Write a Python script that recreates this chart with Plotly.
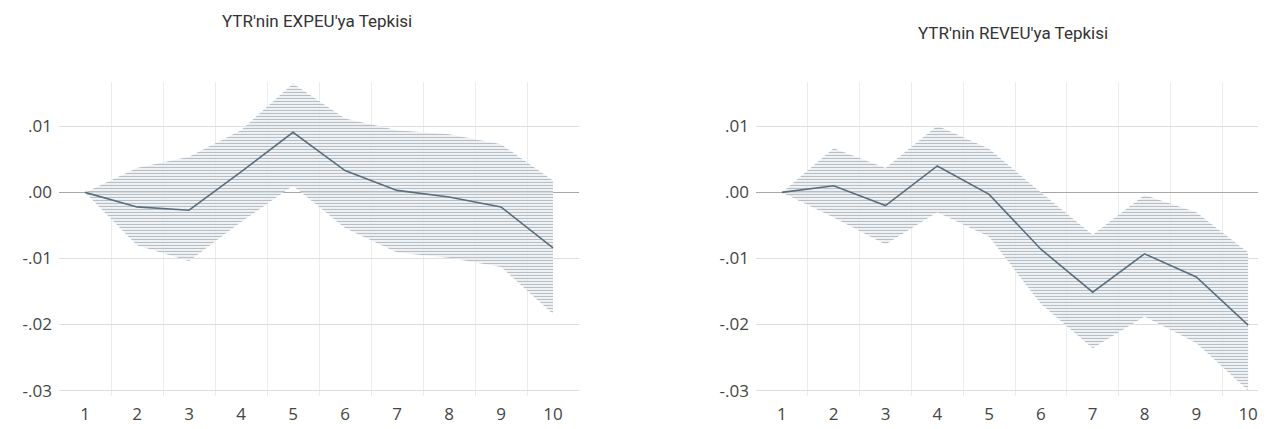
import plotly.graph_objects as go

periods = [1, 2, 3, 4, 5, 6, 7, 8, 9, 10]

# YTR'nin EXPEU'ya Tepkisi
exp_resp = [0.0, -0.0022, -0.0027, 0.0031, 0.0091, 0.0033, 0.0003, -0.0007, -0.0022, -0.0084]
exp_upper = [0.0, 0.0037, 0.0054, 0.0094, 0.0165, 0.0112, 0.0094, 0.0088, 0.0073, 0.0018]
exp_lower = [0.0, -0.0080, -0.0104, -0.0045, 0.0010, -0.0054, -0.0091, -0.0099, -0.0113, -0.0184]

# YTR'nin REVEU'ya Tepkisi
rev_resp = [0.0, 0.0010, -0.0020, 0.0040, -0.0003, -0.0086, -0.0151, -0.0093, -0.0128, -0.0201]
rev_upper = [0.0, 0.0067, 0.0037, 0.0101, 0.0066, 0.0000, -0.0064, -0.0004, -0.0030, -0.0091]
rev_lower = [0.0, -0.0038, -0.0079, -0.0030, -0.0067, -0.0169, -0.0236, -0.0188, -0.0228, -0.0300]

titles = ["YTR'nin EXPEU'ya Tepkisi", "YTR'nin REVEU'ya Tepkisi"]
y_tickvals = [0.01, 0.0, -0.01, -0.02, -0.03]
y_ticktext = [".01", ".00", "-.01", "-.02", "-.03"]
grid_minor = [1.5, 2.5, 3.5, 4.5, 5.5, 6.5, 7.5, 8.5, 9.5]

LINE = "#5b6e7b"
pattern = dict(shape="-", fgcolor="#a9b2b7", bgcolor="rgba(238,243,246,0.7)",
               fgopacity=0.85, size=3, solidity=0.38)

fig = go.Figure()
panels = [(exp_resp, exp_upper, exp_lower, "x", "y"),
          (rev_resp, rev_upper, rev_lower, "x2", "y2")]
for resp, up, lo, xa, ya in panels:
    fig.add_trace(go.Scatter(x=periods, y=lo, mode="lines", line=dict(width=0),
                             xaxis=xa, yaxis=ya, showlegend=False, hoverinfo="skip"))
    fig.add_trace(go.Scatter(x=periods, y=up, mode="lines", line=dict(width=0),
                             fill="tonexty", fillpattern=pattern,
                             xaxis=xa, yaxis=ya, showlegend=False, hoverinfo="skip"))
    fig.add_trace(go.Scatter(x=periods, y=resp, mode="lines", line=dict(color=LINE, width=1.6),
                             xaxis=xa, yaxis=ya, showlegend=False))

TICKFONT = dict(family="Open Sans, DejaVu Sans, sans-serif", size=17, color="#454545")
xcommon = dict(range=[0.5, 10.5], tickmode="array", tickvals=periods,
               ticktext=[str(p) for p in periods], showgrid=False, zeroline=False,
               showline=False, ticks="", tickfont=TICKFONT, ticklabelstandoff=6,
               minor=dict(tickmode="array", tickvals=grid_minor, showgrid=True,
                          gridcolor="#ececec", gridwidth=1, ticks=""))
ycommon = dict(range=[-0.03075, 0.01672], tickmode="array", tickvals=y_tickvals,
               ticktext=y_ticktext, showgrid=True, gridcolor="#dedede", gridwidth=1,
               zeroline=True, zerolinecolor="#a8a8a8", zerolinewidth=1,
               showline=False, ticks="", tickfont=TICKFONT, ticklabelstandoff=6)

TITLEFONT = dict(family="Roboto, sans-serif", size=17, color="#333333")
fig.update_layout(
    width=1266, height=429,
    margin=dict(l=0, r=0, t=0, b=0),
    paper_bgcolor="white", plot_bgcolor="white",
    xaxis=dict(domain=[51/1266, 571/1266], anchor="y", **xcommon),
    yaxis=dict(domain=[1-393/429, 1-75/429], anchor="x", **ycommon),
    xaxis2=dict(domain=[748/1266, 1.0], anchor="y2", **xcommon),
    yaxis2=dict(domain=[1-393/429, 1-75/429], anchor="x2", **ycommon),
    annotations=[
        dict(text=titles[0], x=309/1266, y=1-13/429, xref="paper", yref="paper",
             xanchor="center", yanchor="middle", showarrow=False, font=TITLEFONT),
        dict(text=titles[1], x=1005/1266, y=1-25/429, xref="paper", yref="paper",
             xanchor="center", yanchor="middle", showarrow=False, font=TITLEFONT),
    ],
)

fig.write_html("out.html")
